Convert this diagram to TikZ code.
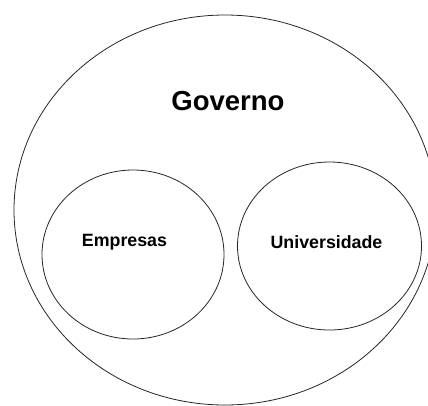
\documentclass[tikz,border=0pt]{standalone}
\usepackage{fontspec}
\setmainfont{Liberation Sans}
\usetikzlibrary{shapes.geometric}
\begin{document}
\begin{tikzpicture}[x=1pt,y=-1pt,
  set/.style={draw=black!85, line width=0.8pt, ellipse, inner sep=0pt},
  lbl/.style={font=\bfseries, text=black, inner sep=0pt}]
\useasboundingbox (0,0) rectangle (428,405);
\node[set, minimum width=422pt, minimum height=390pt] (gov) at (225,210) {};
\node[set, minimum width=182pt, minimum height=169pt] (emp) at (133,254.5) {};
\node[set, minimum width=184pt, minimum height=168pt] (uni) at (329.5,246) {};
\node[lbl, font=\fontsize{27.5}{30}\selectfont\bfseries] (tgov) at (228,101) {Governo};
\node[lbl, font=\fontsize{17.8}{20}\selectfont\bfseries] (temp) at (124.5,242) {Empresas};
\node[lbl, font=\fontsize{17.8}{20}\selectfont\bfseries] (tuni) at (326.5,242) {Universidade};
\end{tikzpicture}
\end{document}
